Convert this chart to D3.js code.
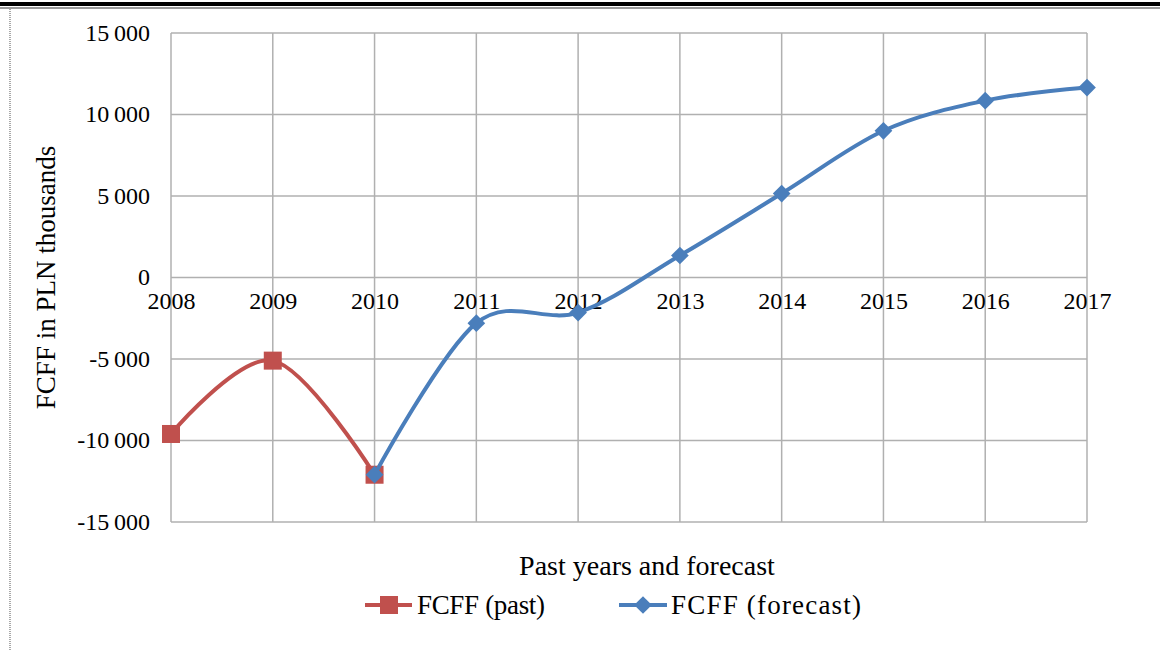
<!DOCTYPE html>
<html>
<head>
<meta charset="utf-8">
<script src="https://cdn.jsdelivr.net/npm/d3@7"></script>
<style>
  html, body { margin: 0; padding: 0; background: #fff; }
  svg { display: block; }
  text { font-family: "Liberation Serif", "Times New Roman", serif; fill: #000; }
</style>
</head>
<body>
<svg id="chart" width="1160" height="651"></svg>
<script>
// FCFF history and forecast, PLN thousands
const years = [2008, 2009, 2010, 2011, 2012, 2013, 2014, 2015, 2016, 2017];
const pastYears = [2008, 2009, 2010];
const pastValues = [-9600, -5100, -12100];
const forecastYears = [2010, 2011, 2012, 2013, 2014, 2015, 2016, 2017];
const forecastValues = [-12100, -2800, -2150, 1350, 5150, 9000, 10850, 11650];
const yTicks = [-15000, -10000, -5000, 0, 5000, 10000, 15000];
const seriesNames = ["FCFF (past)", "FCFF (forecast)"];

const svg = d3.select("#chart");
const W = 1160, H = 651;
const plot = { left: 171, right: 1087, top: 33, bottom: 522 };

// page frame: double rule on top, dotted rule on the left
svg.append("rect").attr("x", 0).attr("y", 2).attr("width", W).attr("height", 4).attr("fill", "#000");
svg.append("rect").attr("x", 0).attr("y", 7).attr("width", W).attr("height", 2).attr("fill", "#9a9a9a");
svg.append("line").attr("x1", 10).attr("x2", 10).attr("y1", 9).attr("y2", H)
  .attr("stroke", "#a8a8a8").attr("stroke-width", 2).attr("stroke-dasharray", "1,1");

const x = d3.scaleLinear().domain([2008, 2017]).range([plot.left, plot.right]);
const y = d3.scaleLinear().domain([-15000, 15000]).range([plot.bottom, plot.top]);

const fmt = v => {
  const s = d3.format(",")(Math.abs(v)).replace(/,/g, "\u2009");
  return (v < 0 ? "-" : "") + s;
};

// gridlines
const grid = svg.append("g").attr("stroke", "#b0b0b0").attr("stroke-width", 1.5);
grid.selectAll("line.h").data(yTicks).join("line")
  .attr("x1", plot.left).attr("x2", plot.right)
  .attr("y1", d => y(d)).attr("y2", d => y(d));
grid.selectAll("line.v").data(years).join("line")
  .attr("y1", plot.top).attr("y2", plot.bottom)
  .attr("x1", d => x(d)).attr("x2", d => x(d));

// y axis labels
const yAxis = d3.axisLeft(y).tickValues(yTicks).tickFormat(fmt).tickSize(0).tickPadding(21);
svg.append("g").attr("transform", `translate(${plot.left},0)`).call(yAxis)
  .call(g => g.select(".domain").remove())
  .selectAll("text").attr("font-size", 24).attr("font-family", "Liberation Serif").attr("fill", "#000")
  .attr("dy", "0.3em");

// x axis labels sit under the zero line
const xAxis = d3.axisBottom(x).tickValues(years).tickFormat(d3.format("d")).tickSize(0).tickPadding(14);
svg.append("g").attr("transform", `translate(0,${y(0)})`).call(xAxis)
  .call(g => g.select(".domain").remove())
  .selectAll("text").attr("font-size", 24).attr("font-family", "Liberation Serif").attr("fill", "#000");

// axis titles
svg.append("text").attr("transform", `translate(55,${(plot.top + plot.bottom) / 2}) rotate(-90)`)
  .attr("text-anchor", "middle").attr("font-size", 27).text("FCFF in PLN thousands");
svg.append("text").attr("x", 647).attr("y", 575).attr("text-anchor", "middle")
  .attr("font-size", 28).text("Past years and forecast");

const line = d3.line().x(d => x(d[0])).y(d => y(d[1])).curve(d3.curveCardinal.tension(0));

const pastPts = pastYears.map((yr, i) => [yr, pastValues[i]]);
const forePts = forecastYears.map((yr, i) => [yr, forecastValues[i]]);

const red = "#c0504d", blue = "#4a7ebb";

svg.append("path").datum(pastPts).attr("d", line)
  .attr("fill", "none").attr("stroke", red).attr("stroke-width", 4);
svg.selectAll("rect.past").data(pastPts).join("rect")
  .attr("x", d => x(d[0]) - 9).attr("y", d => y(d[1]) - 9)
  .attr("width", 18).attr("height", 18).attr("fill", red);

svg.append("path").datum(forePts).attr("d", line)
  .attr("fill", "none").attr("stroke", blue).attr("stroke-width", 4);
const diamond = d3.symbol().type(d3.symbolDiamond2).size(200);
svg.selectAll("path.fore").data(forePts).join("path")
  .attr("d", diamond)
  .attr("transform", d => `translate(${x(d[0])},${y(d[1])})`)
  .attr("fill", blue);

// legend
const lg = svg.append("g");
const legendY = 605;
lg.append("line").attr("x1", 365).attr("x2", 412).attr("y1", legendY).attr("y2", legendY)
  .attr("stroke", red).attr("stroke-width", 4);
lg.append("rect").attr("x", 380).attr("y", legendY - 9).attr("width", 18).attr("height", 18).attr("fill", red);
lg.append("text").attr("x", 417).attr("y", legendY + 9).attr("font-size", 27)
  .attr("textLength", 128).attr("lengthAdjust", "spacing").text(seriesNames[0]);

lg.append("line").attr("x1", 619).attr("x2", 667).attr("y1", legendY).attr("y2", legendY)
  .attr("stroke", blue).attr("stroke-width", 4);
lg.append("path").attr("d", diamond).attr("transform", `translate(643,${legendY})`).attr("fill", blue);
lg.append("text").attr("x", 671).attr("y", legendY + 9).attr("font-size", 27)
  .attr("textLength", 190).attr("lengthAdjust", "spacing").text(seriesNames[1]);
</script>
</body>
</html>
